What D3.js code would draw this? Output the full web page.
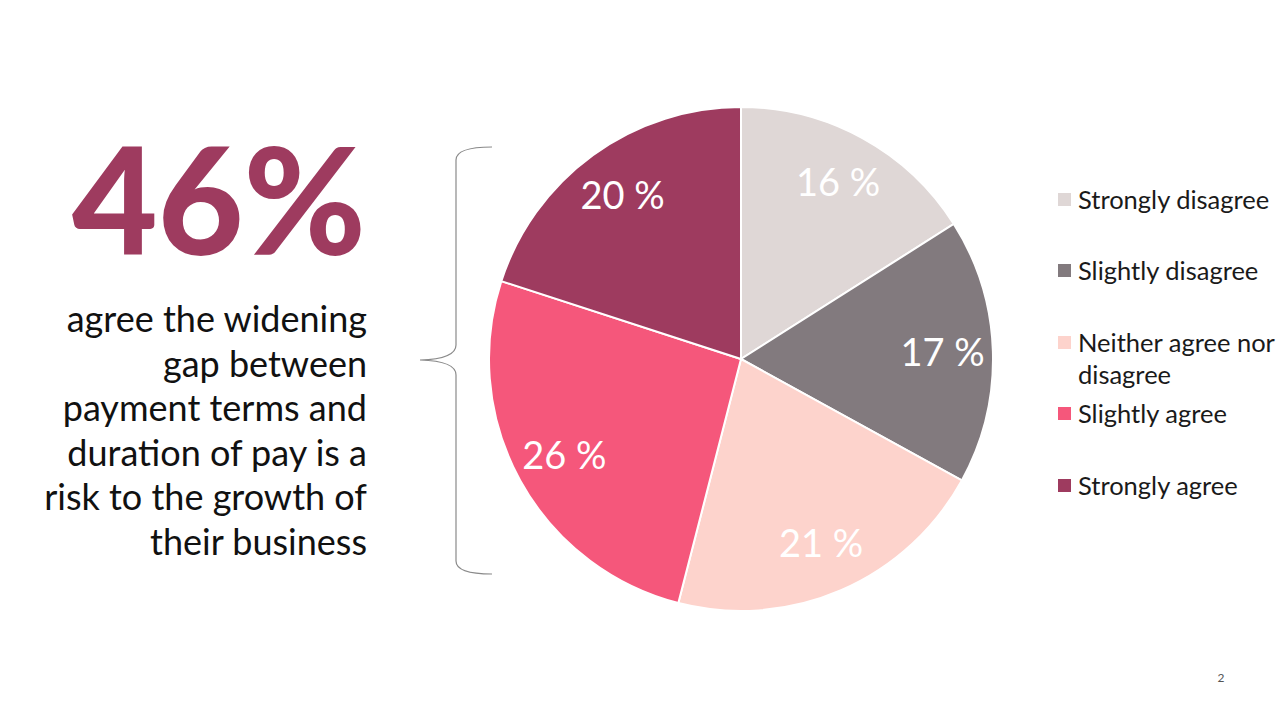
<!DOCTYPE html>
<html>
<head>
<meta charset="utf-8">
<script src="https://cdn.jsdelivr.net/npm/d3@7"></script>
<style>
  body { margin: 0; background: #fff; }
  svg { display: block; font-family: "Lato", "Open Sans", sans-serif; }
</style>
</head>
<body>
<svg id="chart" width="1280" height="720"></svg>
<script>
// data
var categories = ["Strongly disagree", "Slightly disagree", "Neither agree nor disagree", "Slightly agree", "Strongly agree"];
var values = [16, 17, 21, 26, 20];
var colors = ["#dfd7d6", "#827a7e", "#fdd3cc", "#f5577b", "#9e3b5f"];
var legendLines = [["Strongly disagree"], ["Slightly disagree"], ["Neither agree nor", "disagree"], ["Slightly agree"], ["Strongly agree"]];
var legendY = [200, 271, 343, 414, 486];
var headline = "46%";
var bodyLines = ["agree the widening", "gap between", "payment terms and", "duration of pay is a", "risk to the growth of", "their business"];

var svg = d3.select("#chart");

// big number
svg.append("text")
  .attr("x", 366).attr("y", 255)
  .attr("text-anchor", "end")
  .style("font-size", "148px")
  .style("font-weight", 900)
  .attr("fill", "#9e3b5f")
  .text(headline);

// body text, right aligned
svg.append("g").selectAll("text")
  .data(bodyLines)
  .enter().append("text")
    .attr("x", 367)
    .attr("y", function(d, i) { return 332 + i * 44.5; })
    .attr("text-anchor", "end")
    .style("font-size", "36px")
    .attr("fill", "#111")
    .text(function(d) { return d; });

// curly brace
var brace = d3.path();
brace.moveTo(492, 147);
brace.quadraticCurveTo(456, 147, 456, 160);
brace.lineTo(456, 345);
brace.quadraticCurveTo(456, 359, 420, 360);
brace.quadraticCurveTo(456, 361, 456, 375);
brace.lineTo(456, 561);
brace.quadraticCurveTo(456, 574, 492, 574);
svg.append("path")
  .attr("d", brace.toString())
  .attr("fill", "none")
  .attr("stroke", "#8a8a8a")
  .attr("stroke-width", 1.2);

// pie
var cx = 741, cy = 359, R = 252;
var pie = d3.pie().sort(null).value(function(d) { return d; });
var arc = d3.arc().innerRadius(0).outerRadius(R);
var labelArc = d3.arc().innerRadius(R * 0.8).outerRadius(R * 0.8);
var arcs = pie(values);

var g = svg.append("g").attr("transform", "translate(" + cx + "," + cy + ")");
g.selectAll("path")
  .data(arcs)
  .enter().append("path")
    .attr("d", arc)
    .attr("fill", function(d, i) { return colors[i]; })
    .attr("stroke", "#fff")
    .attr("stroke-width", 2);

g.selectAll("text")
  .data(arcs)
  .enter().append("text")
    .attr("transform", function(d) { return "translate(" + labelArc.centroid(d) + ")"; })
    .attr("text-anchor", "middle")
    .attr("dy", "0.35em")
    .style("font-size", "38px")
    .attr("fill", "#fff")
    .text(function(d) { return d.value + " %"; });

// legend
var leg = svg.append("g").selectAll("g")
  .data(categories)
  .enter().append("g")
    .attr("transform", function(d, i) { return "translate(1058," + legendY[i] + ")"; });

leg.append("rect")
  .attr("x", 0).attr("y", -7)
  .attr("width", 13).attr("height", 13)
  .attr("fill", function(d, i) { return colors[i]; });

leg.each(function(d, i) {
  var t = d3.select(this).append("text")
    .attr("x", 20).attr("y", 9)
    .style("font-size", "25.5px")
    .attr("fill", "#1a1a1a");
  legendLines[i].forEach(function(line, j) {
    t.append("tspan").attr("x", 20).attr("dy", j === 0 ? 0 : 32).text(line);
  });
});

// page number
svg.append("text")
  .attr("x", 1221).attr("y", 682)
  .attr("text-anchor", "middle")
  .style("font-size", "12px")
  .attr("fill", "#555")
  .text("2");
</script>
</body>
</html>
